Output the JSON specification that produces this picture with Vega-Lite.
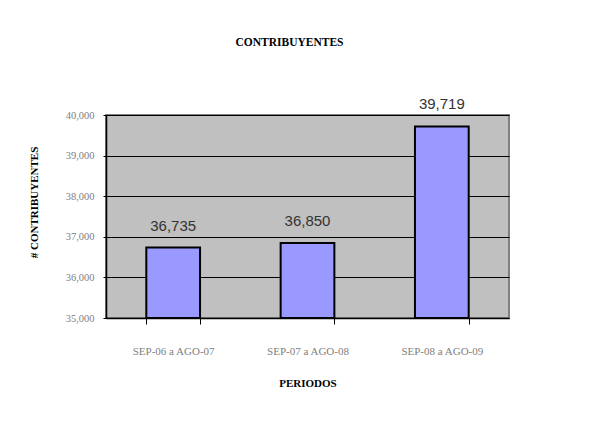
{
  "$schema": "https://vega.github.io/schema/vega-lite/v6.json",
  "width": 403,
  "height": 203,
  "autosize": {"type": "none"},
  "padding": {"left": 106, "top": 115, "right": 93, "bottom": 115},
  "background": "white",
  "title": {
    "text": "CONTRIBUYENTES",
    "font": "Liberation Serif",
    "fontSize": 11.5,
    "fontWeight": "bold",
    "color": "black",
    "anchor": "middle",
    "dx": -18,
    "offset": 49
  },
  "data": {
    "values": [
      {"periodo": "SEP-06 a AGO-07", "contribuyentes": 36735},
      {"periodo": "SEP-07 a AGO-08", "contribuyentes": 36850},
      {"periodo": "SEP-08 a AGO-09", "contribuyentes": 39719}
    ]
  },
  "encoding": {
    "x": {
      "field": "periodo",
      "type": "nominal",
      "sort": null,
      "scale": {"paddingInner": 0.6, "paddingOuter": 0.3},
      "axis": {
        "title": "PERIODOS",
        "titleFont": "Liberation Serif",
        "titleFontSize": 11,
        "titleFontWeight": "bold",
        "titleColor": "black",
        "titlePadding": 21,
        "labelAngle": 0,
        "labelFont": "Liberation Serif",
        "labelFontSize": 11,
        "labelColor": "#808080",
        "labelPadding": 21,
        "tickBand": "extent",
        "tickSize": 6,
        "tickColor": "black",
        "domainColor": "black",
        "domainWidth": 1.5
      }
    },
    "y": {
      "field": "contribuyentes",
      "type": "quantitative",
      "scale": {"domain": [35000, 40000], "zero": false},
      "axis": {
        "title": "# CONTRIBUYENTES",
        "titleFont": "Liberation Serif",
        "titleFontSize": 11,
        "titleFontWeight": "bold",
        "titleColor": "black",
        "titlePadding": 26,
        "titleY": 87,
        "values": [35000, 36000, 37000, 38000, 39000, 40000],
        "format": ",.0f",
        "labelFont": "Liberation Serif",
        "labelFontSize": 10.5,
        "labelColor": "#808080",
        "labelPadding": 9,
        "tickSize": 3,
        "tickColor": "black",
        "domainColor": "black",
        "domainWidth": 1.5,
        "grid": true,
        "gridColor": "black",
        "gridWidth": 1.2,
        "gridOpacity": 1
      }
    }
  },
  "layer": [
    {
      "mark": {"type": "bar", "color": "#9999FF", "stroke": "black", "strokeWidth": 2},
      "encoding": {"y2": {"datum": 35000}}
    },
    {
      "mark": {
        "type": "text",
        "baseline": "bottom",
        "dy": -14,
        "font": "Liberation Sans",
        "fontSize": 15,
        "color": "#333333"
      },
      "encoding": {"text": {"field": "contribuyentes", "type": "quantitative", "format": ","}}
    }
  ],
  "config": {
    "view": {"fill": "#C0C0C0", "stroke": "#808080", "strokeWidth": 2}
  }
}
